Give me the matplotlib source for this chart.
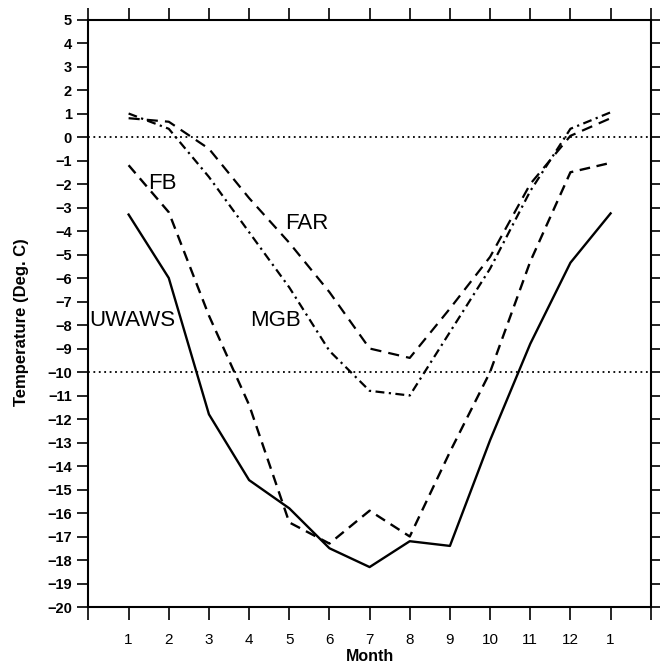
import matplotlib
matplotlib.use("Agg")
import matplotlib.pyplot as plt

plt.rcParams['font.family'] = ['Liberation Sans', 'DejaVu Sans']

months = [1, 2, 3, 4, 5, 6, 7, 8, 9, 10, 11, 12, 13]
month_labels = ['1', '2', '3', '4', '5', '6', '7', '8', '9', '10', '11', '12', '1']
uwaws = [-3.3, -6.0, -11.8, -14.6, -15.8, -17.5, -18.3, -17.2, -17.4, -12.9, -8.8, -5.35, -3.25]
fb = [-1.2, -3.2, -7.6, -11.4, -16.4, -17.3, -15.9, -17.0, -13.4, -10.0, -5.3, -1.5, -1.1]
far = [0.8, 0.65, -0.5, -2.6, -4.5, -6.6, -9.0, -9.4, -7.3, -5.1, -2.0, 0.05, 0.8]
mgb = [1.0, 0.35, -1.7, -4.05, -6.4, -9.1, -10.8, -11.0, -8.3, -5.6, -2.3, 0.35, 1.05]
ref_levels = [0, -10]
yticks = list(range(-20, 6))

fig = plt.figure(figsize=(6.6, 6.68), dpi=100)
ax = fig.add_axes([0.134, 0.0913, 0.852, 0.8795])

ax.plot(months, uwaws, color='black', lw=1.7, linestyle='-')
ax.plot(months, fb, color='black', lw=1.7, linestyle=(0, (4.5, 2.8)))
ax.plot(months, far, color='black', lw=1.6, linestyle=(0, (5, 3.2)))
ax.plot(months, mgb, color='black', lw=1.6, linestyle=(0, (4, 2, 1, 2)))
for lvl in ref_levels:
    ax.axhline(lvl, color='black', lw=1.3, linestyle=(0, (1, 2)))

ax.text(1.85, -1.96, 'FB', fontsize=16, ha='center', va='center')
ax.text(5.43, -3.66, 'FAR', fontsize=16, ha='center', va='center')
ax.text(4.66, -7.8, 'MGB', fontsize=16, ha='center', va='center')
ax.text(1.08, -7.8, 'UWAWS', fontsize=16, ha='center', va='center')

ax.set_xlim(0, 14)
ax.set_ylim(-20, 5)
ax.set_xticks(list(range(0, 15)))
ax.set_xticklabels([''] + month_labels + [''], fontsize=11)
ax.set_yticks(yticks)
ax.set_yticklabels([str(v).replace('-', '\u2212') for v in yticks], fontsize=10.5, fontweight='bold')
ax.tick_params(axis='both', which='both', direction='out', width=1.2,
               top=True, right=True, labeltop=False, labelright=False)
ax.tick_params(axis='x', length=9, pad=10)
ax.tick_params(axis='y', length=8, pad=4)
for s in ax.spines.values():
    s.set_linewidth(1.5)

ax.set_xlabel('Month', fontsize=11.5, fontweight='bold', va='center')
ax.xaxis.set_label_coords(0.5, -0.085)
ax.set_ylabel('Temperature (Deg. C)', fontsize=12, fontweight='bold')
ax.yaxis.set_label_coords(-0.106, 0.485)

fig.savefig('out.png', dpi=100)
